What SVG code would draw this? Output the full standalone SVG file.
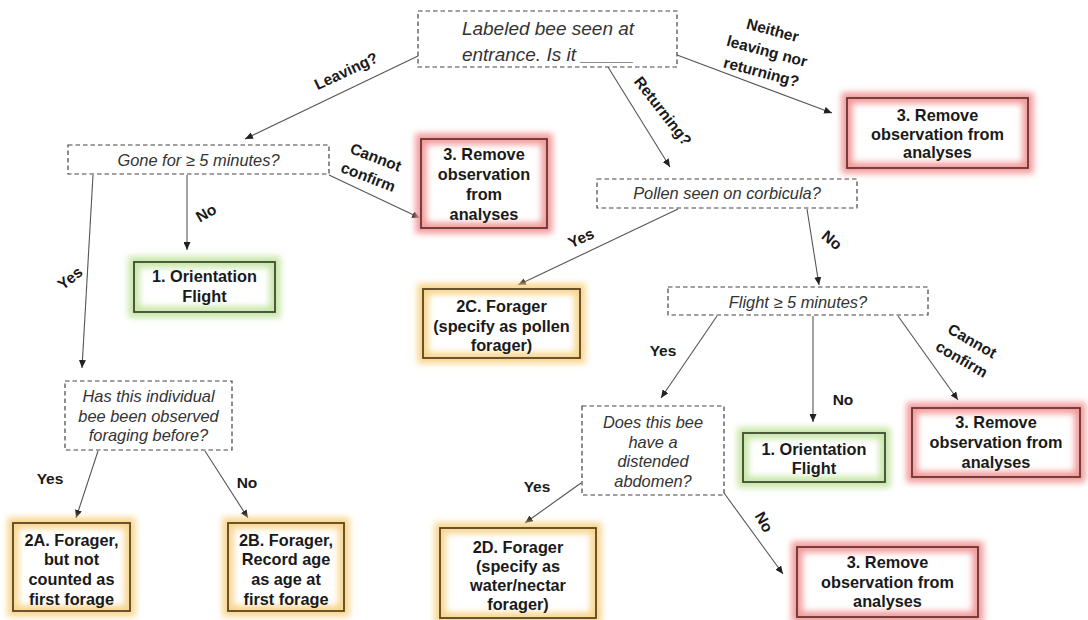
<svg xmlns="http://www.w3.org/2000/svg" width="1088" height="620" viewBox="0 0 1088 620">
<style>
.q{fill:#fff;stroke:#444;stroke-width:1.2;stroke-dasharray:4.5,3}
.qt{font-family:"Liberation Sans",Arial,sans-serif;font-style:italic;font-size:16.4px;fill:#333;text-anchor:middle}
.bt{font-family:"Liberation Sans",Arial,sans-serif;font-weight:bold;font-size:16.3px;fill:#1a1a1a;text-anchor:middle}
.lb{font-family:"Liberation Sans",Arial,sans-serif;font-weight:bold;font-size:15.5px;fill:#1a1a1a;text-anchor:middle}
.bg{fill:#fff}
.gr{fill:none;stroke:#f39a9a;stroke-width:11}
.gg{fill:none;stroke:#c6e6a6;stroke-width:11}
.go{fill:none;stroke:#f8d58c;stroke-width:11}
.br{fill:none;stroke:#6a3434;stroke-width:1.8}
.bgn{fill:none;stroke:#3e4a32;stroke-width:1.8}
.bo{fill:none;stroke:#5a4522;stroke-width:1.8}
.c line{stroke:#555;stroke-width:1.1;marker-end:url(#ah)}
</style>
<defs>
<marker id="ah" markerUnits="userSpaceOnUse" markerWidth="8" markerHeight="7" refX="8" refY="3.5" orient="auto">
<path d="M0,0 L8,3.5 L0,7 z" fill="#222"/>
</marker>
<filter id="blur" x="-30%" y="-30%" width="160%" height="160%"><feGaussianBlur stdDeviation="3"/></filter>
</defs>
<rect width="1088" height="620" fill="#fff"/>

<g class="c" id="connectors">
<line x1="418" y1="56" x2="245" y2="139"/>
<line x1="608" y1="67" x2="670" y2="167"/>
<line x1="677" y1="55" x2="832" y2="113"/>
<line x1="187" y1="175" x2="187" y2="250"/>
<line x1="93" y1="175" x2="82" y2="368"/>
<line x1="329" y1="175" x2="420" y2="218"/>
<line x1="98" y1="451" x2="76" y2="518"/>
<line x1="205" y1="451" x2="248" y2="518"/>
<line x1="678" y1="209" x2="518" y2="285"/>
<line x1="807" y1="209" x2="819" y2="285"/>
<line x1="717" y1="316" x2="661" y2="398"/>
<line x1="813" y1="316" x2="813" y2="422"/>
<line x1="898" y1="316" x2="958" y2="400"/>
<line x1="581" y1="483" x2="525" y2="523"/>
<line x1="724" y1="493" x2="783" y2="574"/>
</g>

<g id="labels">
<text class="lb" transform="translate(346,71) rotate(-25)" dy="0.35em">Leaving?</text>
<text class="lb" transform="translate(663,111) rotate(52)" dy="0.35em">Returning?</text>
<text class="lb" transform="translate(767,51) rotate(15)"><tspan x="0" dy="-1.05em">Neither</tspan><tspan x="0" dy="1.4em">leaving nor</tspan><tspan x="0" dy="1.4em">returning?</tspan></text>
<text class="lb" transform="translate(372,167) rotate(21)"><tspan x="0" dy="-0.33em">Cannot</tspan><tspan x="0" dy="1.36em">confirm</tspan></text>
<text class="lb" transform="translate(206,213) rotate(-30)" dy="0.35em">No</text>
<text class="lb" transform="translate(70,278) rotate(-38)" dy="0.35em">Yes</text>
<text class="lb" transform="translate(581,238) rotate(-25)" dy="0.35em">Yes</text>
<text class="lb" transform="translate(832,240) rotate(40)" dy="0.35em">No</text>
<text class="lb" x="663" y="351" dy="0.35em">Yes</text>
<text class="lb" x="843" y="400" dy="0.35em">No</text>
<text class="lb" transform="translate(967,350) rotate(30)"><tspan x="0" dy="-0.33em">Cannot</tspan><tspan x="0" dy="1.36em">confirm</tspan></text>
<text class="lb" x="537" y="487" dy="0.35em">Yes</text>
<text class="lb" transform="translate(764,522) rotate(60)" dy="0.35em">No</text>
<text class="lb" x="50" y="479" dy="0.35em">Yes</text>
<text class="lb" x="247" y="483" dy="0.35em">No</text>
</g>

<g id="q-top">
<rect class="q" x="418" y="11" width="259" height="56"/>
<text class="qt" style="font-size:19px" x="548" y="35">Labeled bee seen at</text>
<text class="qt" style="font-size:19px" x="548" y="61">entrance. Is it _____</text>
</g>

<g id="q-gone">
<rect class="q" x="68" y="145" width="261" height="29"/>
<text class="qt" x="198.5" y="166">Gone for ≥ 5 minutes?</text>
</g>

<g id="q-pollen">
<rect class="q" x="597" y="179" width="260" height="29"/>
<text class="qt" x="727" y="199">Pollen seen on corbicula?</text>
</g>

<g id="q-flight">
<rect class="q" x="668" y="287" width="260" height="28"/>
<text class="qt" x="798" y="308">Flight ≥ 5 minutes?</text>
</g>

<g id="q-has">
<rect class="q" x="65" y="381" width="167" height="69"/>
<text class="qt" x="148.5" y="402">Has this individual</text>
<text class="qt" x="148.5" y="422">bee been observed</text>
<text class="qt" x="148.5" y="441">foraging before?</text>
</g>

<g id="q-does">
<rect class="q" x="582" y="406" width="142" height="89"/>
<text class="qt" x="653" y="428">Does this bee</text>
<text class="qt" x="653" y="448">have a</text>
<text class="qt" x="653" y="467">distended</text>
<text class="qt" x="653" y="487">abdomen?</text>
</g>

<g id="remove-1">
<rect class="bg" x="421" y="139" width="126" height="89"/>
<rect class="gr" x="421" y="139" width="126" height="89" filter="url(#blur)"/>
<rect class="br" x="421" y="139" width="126" height="89"/>
<text class="bt" x="484" y="160">3. Remove</text>
<text class="bt" x="484" y="180">observation</text>
<text class="bt" x="484" y="200">from</text>
<text class="bt" x="484" y="220">analyses</text>
</g>

<g id="remove-2">
<rect class="bg" x="847" y="98" width="181" height="70"/>
<rect class="gr" x="847" y="98" width="181" height="70" filter="url(#blur)"/>
<rect class="br" x="847" y="98" width="181" height="70"/>
<text class="bt" x="937.5" y="121">3. Remove</text>
<text class="bt" x="937.5" y="140">observation from</text>
<text class="bt" x="937.5" y="158">analyses</text>
</g>

<g id="remove-3">
<rect class="bg" x="912" y="408" width="168" height="69"/>
<rect class="gr" x="912" y="408" width="168" height="69" filter="url(#blur)"/>
<rect class="br" x="912" y="408" width="168" height="69"/>
<text class="bt" x="996" y="428">3. Remove</text>
<text class="bt" x="996" y="448">observation from</text>
<text class="bt" x="996" y="468">analyses</text>
</g>

<g id="remove-4">
<rect class="bg" x="797" y="547" width="181" height="70"/>
<rect class="gr" x="797" y="547" width="181" height="70" filter="url(#blur)"/>
<rect class="br" x="797" y="547" width="181" height="70"/>
<text class="bt" x="887.5" y="568">3. Remove</text>
<text class="bt" x="887.5" y="588">observation from</text>
<text class="bt" x="887.5" y="607">analyses</text>
</g>

<g id="orient-1">
<rect class="bg" x="134" y="262" width="141" height="50"/>
<rect class="gg" x="134" y="262" width="141" height="50" filter="url(#blur)"/>
<rect class="bgn" x="134" y="262" width="141" height="50"/>
<text class="bt" x="204.5" y="282">1. Orientation</text>
<text class="bt" x="204.5" y="302">Flight</text>
</g>

<g id="orient-2">
<rect class="bg" x="743" y="433" width="142" height="49"/>
<rect class="gg" x="743" y="433" width="142" height="49" filter="url(#blur)"/>
<rect class="bgn" x="743" y="433" width="142" height="49"/>
<text class="bt" x="814" y="455">1. Orientation</text>
<text class="bt" x="814" y="474">Flight</text>
</g>

<g id="forager-2a">
<rect class="bg" x="13" y="523" width="117" height="88"/>
<rect class="go" x="13" y="523" width="117" height="88" filter="url(#blur)"/>
<rect class="bo" x="13" y="523" width="117" height="88"/>
<text class="bt" x="71.5" y="546">2A. Forager,</text>
<text class="bt" x="71.5" y="565">but not</text>
<text class="bt" x="71.5" y="585">counted as</text>
<text class="bt" x="71.5" y="605">first forage</text>
</g>

<g id="forager-2b">
<rect class="bg" x="228" y="523" width="116" height="88"/>
<rect class="go" x="228" y="523" width="116" height="88" filter="url(#blur)"/>
<rect class="bo" x="228" y="523" width="116" height="88"/>
<text class="bt" x="286" y="546">2B. Forager,</text>
<text class="bt" x="286" y="565">Record age</text>
<text class="bt" x="286" y="585">as age at</text>
<text class="bt" x="286" y="605">first forage</text>
</g>

<g id="forager-2c">
<rect class="bg" x="423" y="289" width="157" height="69"/>
<rect class="go" x="423" y="289" width="157" height="69" filter="url(#blur)"/>
<rect class="bo" x="423" y="289" width="157" height="69"/>
<text class="bt" x="501.5" y="312">2C. Forager</text>
<text class="bt" x="501.5" y="332">(specify as pollen</text>
<text class="bt" x="501.5" y="351">forager)</text>
</g>

<g id="forager-2d">
<rect class="bg" x="440" y="528" width="156" height="90"/>
<rect class="go" x="440" y="528" width="156" height="90" filter="url(#blur)"/>
<rect class="bo" x="440" y="528" width="156" height="90"/>
<text class="bt" x="518" y="553">2D. Forager</text>
<text class="bt" x="518" y="572">(specify as</text>
<text class="bt" x="518" y="591">water/nectar</text>
<text class="bt" x="518" y="610">forager)</text>
</g>
</svg>
